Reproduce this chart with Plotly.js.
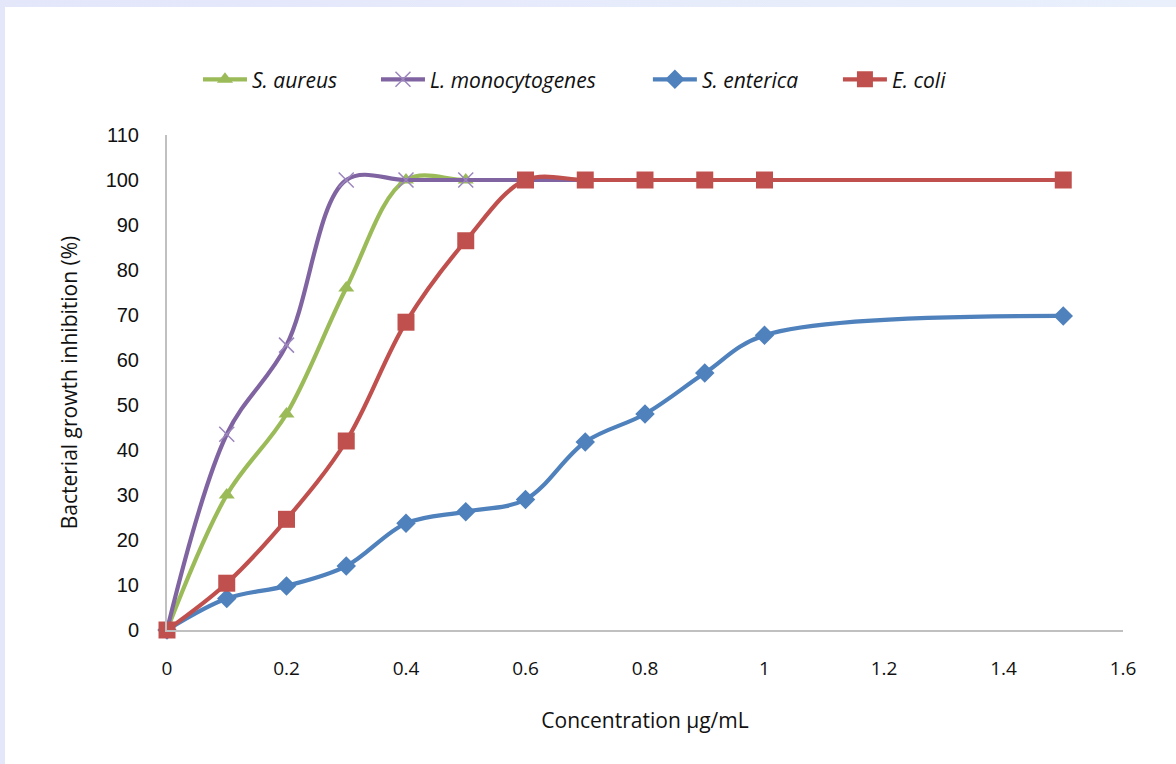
<!DOCTYPE html>
<html>
<head>
<meta charset="utf-8">
<script src="https://cdn.plot.ly/plotly-3.0.1.min.js"></script>
<style>
  html, body { margin: 0; padding: 0; }
  body { width: 1176px; height: 764px; background: linear-gradient(90deg, #e4e6fa, #e9f0fc); overflow: hidden; position: relative; }
  #chart { position: absolute; left: 5px; top: 7px; width: 1171px; height: 757px; background: #ffffff; }
</style>
</head>
<body>
<div id="chart"></div>
<script>
const concentration = [0, 0.1, 0.2, 0.3, 0.4, 0.5, 0.6, 0.7, 0.8, 0.9, 1.0, 1.5];
const sAureus = [0, 30, 48, 76, 100, 100, 100, 100, 100, 100, 100, 100];
const lMonocytogenes = [0, 43.5, 63.3, 100, 100, 100, 100, 100, 100, 100, 100, 100];
const sEnterica = [0, 7, 9.8, 14.2, 23.7, 26.3, 29, 41.8, 48, 57.1, 65.5, 69.8];
const eColi = [0, 10.4, 24.6, 42, 68.4, 86.5, 100, 100, 100, 100, 100, 100];
const seriesNames = ['S. aureus', 'L. monocytogenes', 'S. enterica', 'E. coli'];
const yTicks = [0, 10, 20, 30, 40, 50, 60, 70, 80, 90, 100, 110];
const xTicks = [0, 0.2, 0.4, 0.6, 0.8, 1, 1.2, 1.4, 1.6];
const xTickLabels = ['0', '0.2', '0.4', '0.6', '0.8', '1', '1.2', '1.4', '1.6'];

const lineW = 4.2;
const traces = [
  {
    x: concentration, y: sAureus, name: seriesNames[0], type: 'scatter', mode: 'lines+markers', legend: 'legend',
    line: {color: '#9BBB59', width: lineW, shape: 'spline', smoothing: 1},
    marker: {symbol: 'triangle-up', size: 14, color: '#9BBB59'},
    cliponaxis: false
  },
  {
    x: concentration, y: lMonocytogenes, name: seriesNames[1], type: 'scatter', mode: 'lines+markers', legend: 'legend2',
    line: {color: '#8064A2', width: lineW, shape: 'spline', smoothing: 1},
    marker: {symbol: 'x-thin-open', size: 15, color: '#9c86bd', line: {width: 1.5, color: '#9c86bd'}},
    cliponaxis: false
  },
  {
    x: concentration, y: sEnterica, name: seriesNames[2], type: 'scatter', mode: 'lines+markers', legend: 'legend3',
    line: {color: '#4F81BD', width: lineW, shape: 'spline', smoothing: 1},
    marker: {symbol: 'diamond', size: 15, color: '#4F81BD'},
    cliponaxis: false
  },
  {
    x: concentration, y: eColi, name: seriesNames[3], type: 'scatter', mode: 'lines+markers', legend: 'legend4',
    line: {color: '#C0504D', width: lineW, shape: 'spline', smoothing: 1},
    marker: {symbol: 'square', size: 17, color: '#C0504D'},
    cliponaxis: false
  }
];

const legendFont = {family: '"Open Sans", Lato, sans-serif', size: 21, color: '#111111', style: 'italic'};
function mkLegend(x) {
  return {
    orientation: 'h', x: x, xref: 'container', y: 0.904, yref: 'container',
    xanchor: 'left', yanchor: 'middle', font: legendFont, itemwidth: 44, bgcolor: 'rgba(0,0,0,0)'
  };
}

const textFont = '"Open Sans", Lato, sans-serif';
const layout = {
  width: 1171, height: 757,
  paper_bgcolor: '#ffffff', plot_bgcolor: '#ffffff',
  margin: {l: 162, r: 53, t: 128, b: 134},
  showlegend: true,
  legend: mkLegend(0.1648),
  legend2: mkLegend(0.3168),
  legend3: mkLegend(0.549),
  legend4: mkLegend(0.7113),
  xaxis: {
    range: [0, 1.6], tickvals: xTicks, ticktext: xTickLabels,
    showgrid: false, zeroline: false, showline: true, linecolor: '#c0c0c0', linewidth: 2,
    ticks: '', ticklabelstandoff: 20,
    tickfont: {family: textFont, size: 19, color: '#111111'},
    title: {text: 'Concentration µg/mL', font: {family: textFont, size: 21, color: '#111111'}, standoff: 34},
    automargin: false
  },
  yaxis: {
    range: [0, 110], tickvals: yTicks,
    showgrid: false, zeroline: false, showline: true, linecolor: '#c0c0c0', linewidth: 2,
    ticks: '', ticklabelstandoff: 22,
    tickfont: {family: '"Liberation Sans", Arial, sans-serif', size: 20, color: '#111111'},
    title: {text: 'Bacterial growth inhibition (%)', font: {family: textFont, size: 21, color: '#111111'}, standoff: 22},
    automargin: false
  }
};

Plotly.newPlot('chart', traces, layout, {displayModeBar: false, staticPlot: true});
</script>
</body>
</html>
